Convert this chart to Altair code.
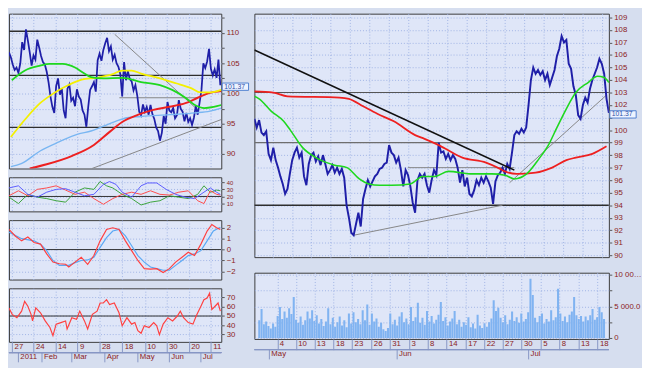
import json
import altair as alt
import pandas as pd

# ================= LEFT WINDOW (daily bars, Dec 2010 - Jul 2011) =================
# index k: one step per bar position
L_CLOSE = [
    106.8, 106.0, 104.8, 103.9, 104.3, 103.4, 105.0, 108.5, 107.2, 110.6,
    108.8, 106.8, 104.6, 106.3, 105.6, 108.9, 107.6, 106.2, 105.2, 104.8,
    103.6, 101.8, 99.5, 97.8, 96.8, 101.2, 102.5, 99.8, 100.8, 97.2,
    95.9, 100.8, 101.5, 98.8, 99.3, 97.9, 100.7, 99.5, 99.0, 97.2,
    96.5, 94.5, 97.8, 100.6, 101.2, 101.9, 100.3, 105.5, 106.6, 105.4,
    107.2, 108.3, 109.2, 107.0, 107.8, 105.6, 106.4, 105.0, 104.4, 103.2,
    99.5, 105.2, 102.2, 103.7, 102.4, 102.0, 100.5, 101.4, 99.6, 97.0,
    96.4, 98.2, 97.0, 97.8, 96.5, 98.1, 96.6, 95.8, 94.4, 93.8,
    92.2, 93.5, 96.3, 95.0, 98.6, 97.2, 96.9, 97.6, 95.9, 96.4,
    98.9, 97.5, 97.0, 95.4, 96.8, 95.3, 95.9, 94.8, 96.0, 97.9,
    96.5, 98.5, 100.6, 105.0, 104.2, 105.3, 107.4, 104.1, 103.0, 104.0,
    102.6, 105.6, 101.37,
]
L_LAST = [101.37]

L_GREEN_K = [1.5, 8.5, 16.5, 21.5, 28.5, 35, 40, 43.5, 50, 60, 70, 80, 86.5, 93.5, 98.5, 103.5, 108.5, 112.5]
L_GREEN_V = [102.2, 103.8, 104.6, 104.9, 104.9, 104.3, 103.3, 102.7, 102.5, 102.6, 101.9, 101.4, 100.6, 99.3, 98.1, 97.6, 97.8, 98.1]
L_YELLOW_K = [1, 8.5, 16.5, 23.5, 31.5, 38.5, 46.5, 55, 60, 65, 70, 80, 88.5, 96.5, 101.5, 107, 112.5]
L_YELLOW_V = [92.8, 95.7, 98.4, 100.0, 101.4, 102.3, 102.6, 103.2, 103.8, 103.8, 103.3, 102.5, 101.7, 100.9, 100.2, 100.2, 100.6]
L_LBLUE_K = [1, 6.5, 16.5, 26.5, 36.5, 43.5, 50, 56.5, 62.5, 70, 85, 98.5, 106.5, 112.5]
L_LBLUE_V = [87.9, 88.4, 90.5, 92.0, 93.3, 93.8, 94.6, 95.4, 96.0, 96.2, 96.5, 96.8, 97.1, 97.6]
L_RED_K = [11, 20, 33.5, 45, 53.5, 60, 68.5, 76.5, 85, 93.5, 100, 106.5, 112.5]
L_RED_V = [87.6, 88.3, 89.7, 91.5, 93.7, 95.3, 96.5, 97.3, 97.8, 98.4, 99.3, 100.1, 100.4]

L_LEVELS = [110.3, 103.0, 94.4]
L_TR_X1 = [56, 44, 58.5]
L_TR_Y1 = [109.8, 87.6, 99.3]
L_TR_X2 = [100, 112.5, 100]
L_TR_Y2 = [97.3, 95.7, 99.3]

# ADX-type panel
ADX_BLUE_K = [0, 5, 10, 15, 20, 25, 30, 35, 40, 45, 50, 53.3, 56.7, 60, 65, 70, 73.3, 78.3, 83.3, 88.3, 93.3, 98.3, 103.3, 106.7, 110, 112]
ADX_BLUE_V = [32, 35, 23, 19, 26, 30, 31, 26, 21, 23, 37, 41, 37, 26, 19, 35, 39, 39, 30, 23, 19, 17, 26, 32, 26, 23]
ADX_RED_K = [0, 5, 10, 15, 20, 25, 30, 35, 40, 45, 50, 55, 60, 65, 70, 75, 80, 85, 90, 95, 100, 103.3, 106.7, 110, 112]
ADX_RED_V = [21, 28, 21, 30, 32, 35, 29, 23, 26, 17, 9, 17, 23, 26, 23, 28, 23, 22, 26, 28, 14, 10, 28, 23, 22]
ADX_GREEN_K = [0, 5, 10, 15, 20, 25, 30, 35, 40, 45, 48.3, 51.7, 55, 60, 65, 70, 75, 80, 85, 90, 95, 100, 103.3, 106.7, 110, 112]
ADX_GREEN_V = [19, 10, 23, 19, 17, 14, 12, 26, 32, 30, 41, 35, 32, 23, 17, 8, 12, 14, 21, 19, 17, 23, 35, 26, 29, 28]

# MACD-type panel
MACD_RED_K = [0, 3.3, 6.7, 10, 13.3, 16.7, 20, 23.3, 26.7, 30, 31.7, 35, 38.3, 41.7, 45, 48.3, 51.7, 55, 58.3, 61.7,
              65, 68.3, 71.7, 75, 78.3, 81.7, 85, 88.3, 91.7, 95, 98.3, 101.7, 105, 107.5, 110, 112]
MACD_RED_V = [1.85, 1.25, 0.8, 1.15, 0.65, 0.5, -0.4, -1.15, -1.3, -1.35, -1.6, -1.15, -0.7, -1.35, -0.55, 0.8, 1.85, 2.0, 1.85, 0.8,
              -0.1, -1.0, -1.75, -1.8, -1.75, -2.1, -1.75, -1.15, -0.7, -0.25, -0.55, 0.5, 1.7, 2.3, 2.0, 1.85]
MACD_BLUE_K = [0, 6.7, 13.3, 16.7, 20, 23.3, 26.7, 31.7, 35, 38.3, 41.7, 45, 48.3, 51.7, 55, 58.3, 61.7, 65, 68.3, 71.7,
               75, 78.3, 81.7, 85, 88.3, 91.7, 95, 98.3, 101.7, 105, 108.3, 112]
MACD_BLUE_V = [1.6, 1.0, 0.8, 0.5, -0.1, -1.0, -1.45, -1.45, -1.2, -1.0, -0.95, -0.7, 0.2, 1.1, 1.7, 1.85, 1.25, 0.35, -0.55, -1.15,
               -1.6, -1.75, -1.9, -1.9, -1.45, -1.0, -0.55, -0.4, -0.1, 0.8, 1.7, 2.05]

# RSI-type panel
RSI_K = [0, 1.7, 4.2, 6.7, 8.3, 10, 11.7, 12.5, 14.2, 16.7, 19.2, 21.7, 23.3, 25, 27.5, 30, 30.8, 33.3, 35.8, 37.5,
         40, 41.7, 44.2, 46.7, 48.3, 50, 51.7, 53.3, 55.8, 58.3, 60, 62.5, 65, 66.7, 68.3, 70, 71.7, 74.2, 76.7, 78.3,
         79.7, 81.7, 84.2, 86.7, 89.2, 90.8, 92.5, 95, 97.5, 99.2, 101.7, 103.3, 105, 106.3, 107.5, 109.2, 110.8, 112]
RSI_V = [58.8, 51.8, 48.2, 55.3, 65.9, 60.6, 51.8, 44.7, 58.8, 53.5, 44.7, 37.6, 28.8, 41.2, 42.9, 44.7, 35.9, 48.2, 46.5, 55.3,
         44.7, 35.9, 51.8, 55.3, 64.1, 64.1, 67.7, 62.4, 64.1, 53.5, 39.4, 48.2, 41.2, 42.9, 34.1, 31.3, 39.4, 37.6, 42.9, 39.4,
         29.9, 41.2, 48.2, 44.7, 50.0, 55.3, 48.2, 42.9, 41.2, 50.0, 60.6, 67.7, 69.4, 74.7, 57.0, 60.6, 64.1, 55.3]

L_TICK_POS = [1.7, 13, 24.7, 36.3, 48, 60, 72, 83.5, 95.3, 107]
L_TICK_LAB = ["27", "24", "14", "9", "28", "18", "10", "30", "20", "11"]
L_MONTH_POS = [5, 17.5, 33.3, 50.8, 68.3, 85, 101.7]
L_MONTH_LAB = ["2011", "Feb", "Mar", "Apr", "May", "Jun", "Jul"]

# ================= RIGHT WINDOW (intraday bars, May - Jul 2011) =================
R_CLOSE = [
    100.9, 100.2, 100.8, 99.8, 99.6, 99.9, 98.1, 97.6, 98.6, 97.6,
    97.0, 96.3, 95.7, 94.9, 95.3, 96.5, 97.6, 98.2, 98.6, 97.8,
    98.2, 96.3, 95.6, 97.3, 98.0, 98.2, 97.5, 97.9, 97.2, 98.0,
    97.3, 96.5, 96.8, 97.2, 96.6, 97.0, 96.5, 96.9, 96.2, 94.0,
    93.0, 91.8, 91.6, 92.5, 93.4, 92.3, 94.5, 95.3, 96.0, 95.5,
    95.9, 96.3, 96.5, 96.9, 97.0, 97.3, 97.4, 98.8, 98.2, 98.0,
    97.4, 97.8, 96.8, 95.5, 96.8, 96.4, 95.5, 94.2, 93.4, 96.0,
    96.5, 96.2, 96.5, 95.6, 95.0, 96.0, 96.8, 96.4, 99.0, 98.2,
    98.3, 97.7, 98.1, 97.6, 98.0, 97.7, 97.0, 95.8, 96.8, 95.5,
    96.2, 94.9, 94.7, 95.2, 96.0, 95.6, 96.2, 95.8, 96.3, 95.9,
    95.4, 94.1, 95.9, 96.4, 96.6, 97.0, 96.5, 97.3, 96.9, 98.2,
    99.6, 99.9, 99.7, 100.1, 99.8, 100.2, 102.0, 104.0, 105.0, 104.5,
    104.8, 104.4, 104.7, 104.0, 104.5, 103.6, 104.2, 104.8, 105.9, 106.5,
    107.5, 107.0, 107.2, 105.3, 104.9, 103.5, 102.8, 101.2, 100.9, 102.0,
    102.6, 102.2, 103.3, 104.0, 104.5, 105.0, 105.7, 105.3, 104.5, 102.5,
    101.37,
]
R_LAST = [101.37]
R_VOLUME = [
    2800, 4600, 2200, 2600, 1900, 1500, 2300, 1800, 3500, 4900,
    3000, 4200, 3200, 4700, 3800, 6500, 2900, 2400, 3400, 2100,
    2800, 4200, 3100, 4400, 2700, 3600, 2300, 3000, 1900, 2600,
    4700, 2200, 3200, 1800, 2500, 3400, 2000, 2800, 1700, 3900,
    2300, 4100, 2500, 3000, 2200, 4400, 2800, 5300, 2100, 3900,
    2600, 3100, 1800, 2400, 1400, 1100, 1600, 3900, 2200, 2900,
    2000, 3400, 4100, 2500, 3100, 2200, 4900, 2700, 3300, 5600,
    2400, 3200, 2100, 4300, 2600, 3500, 2300, 2900, 3700, 5700,
    2700, 3300, 2000, 2600, 3100, 4300, 2200, 2900, 1800, 2500,
    2100, 3300, 1700, 2300, 1500, 3700, 2000, 1600, 2300, 1800,
    2500, 3100, 6000, 4300, 4800, 3200, 2500, 3600, 2200, 2900,
    4200, 2700, 3300, 2400, 3900, 2600, 3000, 4100, 9400, 6800,
    3200, 2500, 3500, 3900, 2300, 3000, 2600, 4400, 2800, 3300,
    7800, 3900, 2700, 3400, 2500, 3700, 4200, 6500, 3600, 3000,
    3500, 2600, 3400, 2800, 3600, 4600, 2900, 3300, 4900, 4100,
    3000,
]
R_GREEN_I = [0, 2, 7.2, 12.4, 15.2, 20.4, 26, 34, 39.2, 44.4, 48.4, 53, 58, 66, 71.2, 76.4, 82, 92.4, 100.4, 106,
             110, 115.2, 120.4, 124.4, 128, 132, 136, 141.2, 145.2, 148, 150]
R_GREEN_V = [102.7, 102.5, 101.5, 100.7, 100.0, 98.6, 97.8, 97.2, 97.0, 96.1, 95.7, 95.6, 95.6, 95.7, 96.3, 96.3, 96.7, 96.5, 96.5, 96.4,
             96.1, 96.5, 97.7, 98.8, 100.2, 101.7, 103.0, 103.8, 104.3, 104.2, 103.8]
R_RED_I = [0, 8, 14, 36, 40, 46, 52, 59, 68, 72, 78, 88, 98, 104, 106, 111, 119, 126, 132, 136, 143, 149]
R_RED_V = [103.1, 103.0, 102.7, 102.6, 102.5, 101.9, 101.3, 100.7, 99.6, 99.3, 98.8, 97.8, 97.4, 96.9, 96.7, 96.5, 96.6, 97.0, 97.6, 97.8, 98.1, 98.7]

R_LEVELS_BLACK = [94.0]
R_LEVELS_DARK = [103.0]
R_LEVELS_GRAY = [99.0]
R_BLACK_X1, R_BLACK_Y1, R_BLACK_X2, R_BLACK_Y2 = [0], [106.4], [110], [96.8]
R_TR_X1 = [42, 108, 65]
R_TR_Y1 = [91.6, 95.8, 97.0]
R_TR_X2 = [105, 149, 110]
R_TR_Y2 = [94.0, 102.8, 97.0]

R_TICK_POS = [7.9, 15.9, 24, 32.3, 40.4, 48.8, 56.8, 65.2, 73.2, 81.5, 89.9, 97.9, 105.9, 114.1, 122.5, 130.5, 138.9, 147.2]
R_TICK_LAB = ["4", "10", "13", "18", "23", "26", "31", "3", "8", "14", "17", "22", "27", "30", "5", "8", "13", "18"]
R_MONTH_POS = [4.4, 60, 117.2]
R_MONTH_LAB = ["May", "Jun", "Jul"]

L_PRICE_TICKS = [87.5, 90, 92.5, 95, 97.5, 100, 102.5, 105, 107.5, 110, 112.5]
R_PRICE_TICKS = [90, 91, 92, 93, 94, 95, 96, 97, 98, 99, 100, 101, 102, 103, 104, 105, 106, 107, 108, 109]
VOL_TICKS = [0, 2500, 5000, 7500, 10000]

# ================= styling =================
FONT = "Liberation Sans"
LABEL_C = "#8b1c1c"
GRID_C = "#9fb3e4"
PLOT_BG = "#dfe6f8"
OUT_BG = "#d6deef"
PRICE_C = "#1f1fa8"
GREEN = "#1ed81e"
RED = "#ee2020"
YELLOW = "#f4f000"
LBLUE = "#79b6f2"
LEVEL_C = "#2e2e2e"
TREND_C = "#858585"
BOX_PATH = "M0,-0.45 L5.4,-0.45 L5.4,1.05 L0,1.05 Z"

LW, RW = 218, 364
LH = [159, 35, 61, 55]
RH = [250, 68]


def df_xy(xs, ys):
    return pd.DataFrame(list(zip(xs, ys)), columns=["x", "y"])


def df_seg(x1, y1, x2, y2):
    return pd.DataFrame(list(zip(x1, y1, x2, y2)), columns=["x", "y", "x2", "y2"])


def df_v(vals):
    return pd.DataFrame({"y": vals})


def grid_xaxis(pos):
    return alt.Axis(values=pos, labels=False, ticks=False, domain=False, grid=True, title=None)


def date_xaxis(pos, labels):
    expr = "%s[indexof(%s, datum.value)]" % (json.dumps(labels), json.dumps(pos))
    return alt.Axis(values=pos, labelExpr=expr, grid=True, ticks=True, tickSize=11,
                    tickColor="#8796c4", labelPadding=-10, labelAlign="left", labelBaseline="top",
                    labelOffset=2, domain=False, title=None, labelOverlap=False, labelFlush=False)


def yaxis(values, expr=None, limit=None, size=8):
    kw = dict(orient="right", values=values, tickSize=3, labelPadding=2, domain=False,
              grid=True, title=None, labelOverlap=False, labelFlush=False, labelFontSize=size)
    if expr is not None:
        kw["labelExpr"] = expr
    if limit is not None:
        kw["labelLimit"] = limit
    return alt.Axis(**kw)


def build_panel(w, h, xscale, xaxis, yscale, yax, spec, last=None, bottom=None):
    def X(f="x"):
        return alt.X(f, type="quantitative", scale=xscale, axis=xaxis)

    def Y(f="y"):
        return alt.Y(f, type="quantitative", scale=yscale, axis=yax)

    layers = []
    for kind, data, opts in spec:
        if kind == "line":
            layers.append(alt.Chart(data).mark_line(clip=True, **opts).encode(x=X(), y=Y()))
        elif kind == "hline":
            layers.append(alt.Chart(data).mark_rule(clip=True, **opts).encode(y=Y()))
        elif kind == "seg":
            layers.append(alt.Chart(data).mark_rule(clip=True, **opts).encode(
                x=X(), x2=alt.X2("x2"), y=Y(), y2=alt.Y2("y2")))
        elif kind == "bar":
            layers.append(alt.Chart(data).mark_bar(clip=True, **opts).encode(
                x=X(), y=Y(), y2=alt.datum(0)))
    if last is not None:
        d = df_v(last)
        layers.append(alt.Chart(d).mark_point(shape=BOX_PATH, size=100, filled=True, opacity=1,
                                              fill="#eef3ff", stroke="#4f7fd0", strokeWidth=1).encode(
            x=alt.value(w + 1), y=Y()))
        layers.append(alt.Chart(d).mark_text(align="left", baseline="middle", dx=2, dy=1.5, fontSize=7,
                                             font=FONT, color="#2c4fa8").encode(
            x=alt.value(w + 1), y=Y(), text=alt.Text("y:Q", format=".2f")))
    if bottom is not None:
        mpos, mlab = bottom
        md = pd.DataFrame({"x": mpos, "t": mlab})
        layers.append(alt.Chart(md).mark_rule(color="#8796c4").encode(
            x=X(), y=alt.value(h + 11), y2=alt.value(h + 21)))
        layers.append(alt.Chart(md).mark_rule(color="#8796c4").encode(
            x=alt.value(0), x2=alt.value(w), y=alt.value(h + 11)))
        layers.append(alt.Chart(md).mark_text(align="left", baseline="top", dx=2, fontSize=8,
                                              font=FONT, color=LABEL_C).encode(
            x=X(), y=alt.value(h + 12), text="t:N"))
    return alt.layer(*layers).properties(width=w, height=h)


# ---------- left window ----------
xl = alt.Scale(domain=[0, 112.5], nice=False, zero=False)
lgrid = grid_xaxis(L_TICK_POS)
ldate = date_xaxis(L_TICK_POS, L_TICK_LAB)

l_price = build_panel(
    LW, LH[0], xl, lgrid,
    alt.Scale(domain=[87.6, 113.2], nice=False, zero=False),
    yaxis(L_PRICE_TICKS, "datum.value % 5 == 0 ? datum.label : ''"),
    [
        ("hline", df_v(L_LEVELS), dict(color=LEVEL_C, strokeWidth=1.5)),
        ("seg", df_seg(L_TR_X1, L_TR_Y1, L_TR_X2, L_TR_Y2), dict(color=TREND_C, strokeWidth=1)),
        ("line", df_xy(range(len(L_CLOSE)), L_CLOSE), dict(color=PRICE_C, strokeWidth=1.8)),
        ("line", df_xy(L_LBLUE_K, L_LBLUE_V), dict(color=LBLUE, strokeWidth=1.4, interpolate="monotone")),
        ("line", df_xy(L_RED_K, L_RED_V), dict(color=RED, strokeWidth=2, interpolate="monotone")),
        ("line", df_xy(L_YELLOW_K, L_YELLOW_V), dict(color=YELLOW, strokeWidth=1.8, interpolate="monotone")),
        ("line", df_xy(L_GREEN_K, L_GREEN_V), dict(color=GREEN, strokeWidth=1.8, interpolate="monotone")),
    ],
    last=L_LAST,
)

l_adx = build_panel(
    LW, LH[1], xl, lgrid,
    alt.Scale(domain=[-1, 47], nice=False, zero=False),
    yaxis([10, 20, 30, 40], size=6),
    [
        ("hline", df_v([20]), dict(color=LEVEL_C, strokeWidth=1)),
        ("line", df_xy(ADX_GREEN_K, ADX_GREEN_V), dict(color="#3aa23a", strokeWidth=1)),
        ("line", df_xy(ADX_RED_K, ADX_RED_V), dict(color="#ff4a4a", strokeWidth=1)),
        ("line", df_xy(ADX_BLUE_K, ADX_BLUE_V), dict(color="#5a5aff", strokeWidth=1)),
    ],
)

l_macd = build_panel(
    LW, LH[2], xl, lgrid,
    alt.Scale(domain=[-2.75, 2.7], nice=False, zero=False),
    yaxis([-2, -1, 0, 1, 2]),
    [
        ("hline", df_v([0]), dict(color=LEVEL_C, strokeWidth=1)),
        ("line", df_xy(MACD_BLUE_K, MACD_BLUE_V), dict(color="#5aa8f5", strokeWidth=1.2)),
        ("line", df_xy(MACD_RED_K, MACD_RED_V), dict(color="#ff4040", strokeWidth=1.2)),
    ],
)

l_rsi = build_panel(
    LW, LH[3], xl, ldate,
    alt.Scale(domain=[22, 80], nice=False, zero=False),
    yaxis([30, 40, 50, 60, 70]),
    [
        ("hline", df_v([50]), dict(color=LEVEL_C, strokeWidth=1)),
        ("line", df_xy(RSI_K, RSI_V), dict(color="#ff4040", strokeWidth=1.2)),
    ],
    bottom=(L_MONTH_POS, L_MONTH_LAB),
)

left = alt.vconcat(l_price, l_adx, l_macd, l_rsi, spacing=7)

# ---------- right window ----------
xr = alt.Scale(domain=[0, 150], nice=False, zero=False)
rgrid = grid_xaxis(R_TICK_POS)
rdate = date_xaxis(R_TICK_POS, R_TICK_LAB)

r_price = build_panel(
    RW, RH[0], xr, rgrid,
    alt.Scale(domain=[89.85, 109.3], nice=False, zero=False),
    yaxis(R_PRICE_TICKS, "datum.value == 101 ? '' : datum.label"),
    [
        ("hline", df_v(R_LEVELS_GRAY), dict(color="#6e6e6e", strokeWidth=1.2)),
        ("hline", df_v(R_LEVELS_DARK), dict(color="#555555", strokeWidth=1.2)),
        ("hline", df_v(R_LEVELS_BLACK), dict(color=LEVEL_C, strokeWidth=1.6)),
        ("seg", df_seg(R_TR_X1, R_TR_Y1, R_TR_X2, R_TR_Y2), dict(color=TREND_C, strokeWidth=1)),
        ("line", df_xy(range(len(R_CLOSE)), R_CLOSE), dict(color=PRICE_C, strokeWidth=2)),
        ("line", df_xy(R_RED_I, R_RED_V), dict(color=RED, strokeWidth=1.8, interpolate="monotone")),
        ("line", df_xy(R_GREEN_I, R_GREEN_V), dict(color=GREEN, strokeWidth=1.6, interpolate="monotone")),
        ("seg", df_seg(R_BLACK_X1, R_BLACK_Y1, R_BLACK_X2, R_BLACK_Y2), dict(color="#111111", strokeWidth=1.6)),
    ],
    last=R_LAST,
)

r_vol = build_panel(
    RW, RH[1], xr, rdate,
    alt.Scale(domain=[-150, 10350], nice=False, zero=False),
    yaxis(VOL_TICKS,
          "datum.value == 0 ? '0' : (datum.value % 5000 == 0 ? replace(format(datum.value, ',.1f'), ',', ' ') : '')",
          limit=30),
    [
        ("bar", df_xy(range(len(R_VOLUME)), R_VOLUME), dict(color="#80b3f1", size=2.1)),
    ],
    bottom=(R_MONTH_POS, R_MONTH_LAB),
)

right = alt.vconcat(r_price, r_vol, spacing=10)

chart = (
    alt.hconcat(left, right, spacing=2)
    .properties(padding={"left": 0, "top": 0, "right": 0, "bottom": 0}, background=OUT_BG)
    .configure_view(fill=PLOT_BG, stroke="#3a3a3a", strokeWidth=1)
    .configure_axis(labelFont=FONT, labelFontSize=8, labelColor=LABEL_C, gridColor=GRID_C,
                    gridDash=[1, 2], gridWidth=1, tickColor="#555555")
)

chart.save("out.html", embed_options={"renderer": "svg", "actions": False})
